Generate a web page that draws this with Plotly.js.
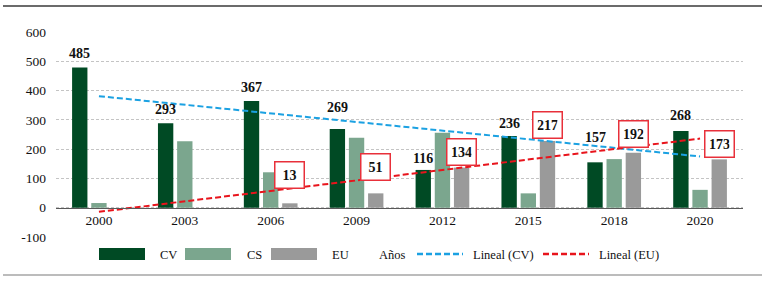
<!DOCTYPE html>
<html><head><meta charset="utf-8">
<script src="https://cdn.plot.ly/plotly-3.0.1.min.js"></script>
<style>html,body{margin:0;padding:0;background:#fff}</style>
</head><body><div id="chart" style="width:765px;height:282px"></div>
<script>
// ---- data ----
const years = ["2000","2003","2006","2009","2012","2015","2018","2020"];
const cvValues = [479, 288, 364, 269, 129, 245, 155, 262];
const csValues = [16, 227, 121, 239, 256, 49, 166, 61];
const euValues = [0, 0, 15, 49, 137, 228, 188, 165];
const cvLabels = ["485","293","367","269","116","236","157","268"];
const euLabels = ["","","13","51","134","217","192","173"];
const trendYears = ["2000","2020"];
const trendCV = [381, 175];
const trendEU = [-14, 236];
const yTickVals = [-100, 0, 100, 200, 300, 400, 500, 600];
const legendNames = ["CV","CS","EU","Años","Lineal (CV)","Lineal (EU)"];

// ---- styling / layout ----
const W = 765, H = 282;
const M = {l:56, r:22, t:32, b:45};
const plotW = W - M.l - M.r, plotH = H - M.t - M.b;
const fx = x => (x - M.l) / plotW;
const fy = y => (H - M.b - y) / plotH;
const FONT = '"Liberation Serif", "Times New Roman", serif';
const TXT = '#111';
const colCV = '#004A24', colCS = '#7BA68E', colEU = '#9A9A9A';
const colTrendCV = '#1BA1E2', colTrendEU = '#E8141C';
const BARGAP = 0.33, BARGROUPGAP = 0.2;
const slot = (1 - BARGAP) / 3;
const cvLabelLift = [4, 4, 4, 12, 2, 3, 15, 6];
const euBoxLift = [0, 0, 14, 12, 2, 2, 5, 1];
const DASH = '6px,3px';

const traces = [
  {type:'bar', name:'CV', x:years, y:cvValues, marker:{color:colCV}, showlegend:false, hoverinfo:'skip'},
  {type:'bar', name:'CS', x:years, y:csValues, marker:{color:colCS}, showlegend:false, hoverinfo:'skip'},
  {type:'bar', name:'EU', x:years, y:euValues, marker:{color:colEU}, showlegend:false, hoverinfo:'skip'},
  {type:'scatter', mode:'lines', name:'Lineal (CV)', x:trendYears, y:trendCV,
   line:{color:colTrendCV, width:2, dash:DASH}, showlegend:false, hoverinfo:'skip'},
  {type:'scatter', mode:'lines', name:'Lineal (EU)', x:trendYears, y:trendEU,
   line:{color:colTrendEU, width:2, dash:DASH}, showlegend:false, hoverinfo:'skip'}
];

const annotations = [];
years.forEach((yr, i) => {
  annotations.push({
    x: i - slot, y: cvValues[i], xref:'x', yref:'y', text: cvLabels[i],
    showarrow:false, yanchor:'bottom', xanchor:'center', yshift: cvLabelLift[i],
    font:{family:FONT, size:14, color:TXT, weight:'bold'}
  });
  if (euLabels[i]) {
    annotations.push({
      x: i + slot, y: euValues[i], xref:'x', yref:'y', text: euLabels[i],
      showarrow:false, yanchor:'bottom', xanchor:'center', yshift: euBoxLift[i],
      width:20, height:17, borderpad:4, borderwidth:1.5, bordercolor:'#E8303A', bgcolor:'#ffffff',
      font:{family:FONT, size:14, color:TXT, weight:'bold'}
    });
  }
});

// legend (drawn manually to match the reference's wide swatches)
const legendItems = [
  {kind:'box', color:colCV, x0:99, x1:145, tx:158},
  {kind:'box', color:colCS, x0:185, x1:231, tx:245},
  {kind:'box', color:colEU, x0:271, x1:317, tx:330},
  {kind:'none', tx:377},
  {kind:'line', color:colTrendCV, x0:417, x1:463, tx:471},
  {kind:'line', color:colTrendEU, x0:543, x1:589, tx:597}
];
const legendY = 254;
const shapes = [
  {type:'line', xref:'paper', yref:'paper', x0:fx(3), x1:fx(762), y0:fy(6), y1:fy(6), line:{color:'#3a3a3a', width:1.5}},
  {type:'line', xref:'paper', yref:'paper', x0:fx(3), x1:fx(762), y0:fy(275), y1:fy(275), line:{color:'#A6A6A6', width:1.5}}
];
legendItems.forEach((it, k) => {
  if (it.kind === 'box') {
    shapes.push({type:'rect', xref:'paper', yref:'paper', x0:fx(it.x0), x1:fx(it.x1),
      y0:fy(legendY + 6), y1:fy(legendY - 6), fillcolor:it.color, line:{width:0}});
  } else if (it.kind === 'line') {
    shapes.push({type:'line', xref:'paper', yref:'paper', x0:fx(it.x0), x1:fx(it.x1),
      y0:fy(legendY), y1:fy(legendY), line:{color:it.color, width:2.5, dash:DASH}});
  }
  annotations.push({xref:'paper', yref:'paper', x:fx(it.tx), y:fy(legendY + 1), xanchor:'left', yanchor:'middle',
    text:legendNames[k], showarrow:false, font:{family:FONT, size:12.5, color:TXT}});
});

const layout = {
  width:W, height:H, margin:M, paper_bgcolor:'#fff', plot_bgcolor:'#fff',
  barmode:'group', bargap:BARGAP, bargroupgap:BARGROUPGAP, showlegend:false,
  font:{family:FONT, size:13, color:TXT},
  xaxis:{type:'category', anchor:'free', position: (0 - (-100)) / 700,
    showline:true, linecolor:'#595959', linewidth:1.3, ticks:'', showgrid:false, zeroline:false,
    tickfont:{family:FONT, size:13.5, color:TXT}, ticklabelstandoff:0, fixedrange:true},
  yaxis:{range:[-100, 600], tickvals:yTickVals, ticktext:yTickVals.map(String), showgrid:true,
    gridcolor:'#C4C4C4', griddash:'3px,2px', gridwidth:1, zeroline:false, showline:false, ticks:'',
    tickfont:{family:FONT, size:13.5, color:TXT}, ticklabelstandoff:9, fixedrange:true},
  shapes: shapes,
  annotations: annotations
};

Plotly.newPlot('chart', traces, layout, {displayModeBar:false, staticPlot:true});
</script>
</body></html>
